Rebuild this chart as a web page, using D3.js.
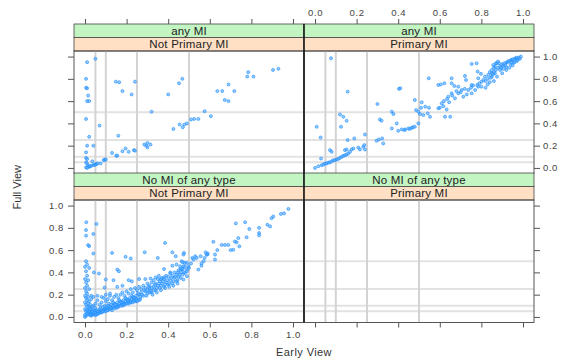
<!DOCTYPE html>
<html>
<head>
<meta charset="utf-8">
<script src="https://cdn.jsdelivr.net/npm/d3@7"></script>
<style>
  html, body { margin: 0; padding: 0; background: #fff; }
  svg { display: block; font-family: "Liberation Sans", Arial, sans-serif; }
</style>
</head>
<body>
<div id="chart"></div>
<script>
// strip labels (outer = green, inner = orange)
const outerLevels = ["any MI", "No MI of any type"];
const innerLevels = ["Not Primary MI", "Primary MI"];
const tickValues = [0, 0.2, 0.4, 0.6, 0.8, 1.0];
const refLines = [0.05, 0.1, 0.25, 0.5];

// any MI / Not Primary MI
const anyNotPrimary = [
  [0.01,0.95],[0.05,0.98],[0.005,0.80],[0.005,0.72],[0.01,0.715],[0.015,0.65],[0.01,0.60],[0.02,0.60],
  [0.005,0.44],[0.07,0.38],[0.02,0.28],[0.16,0.29],[0.01,0.20],[0.04,0.20],[0.005,0.14],[0.005,0.09],
  [0.01,0.08],[0.005,0.05],[0.01,0.04],[0.015,0.02],[0.02,0.01],[0.005,0.005],[0.01,0.0],[0.025,0.015],
  [0.03,0.02],[0.04,0.025],[0.045,0.03],[0.05,0.03],[0.055,0.035],[0.06,0.04],[0.035,0.06],[0.075,0.04],
  [0.09,0.07],[0.095,0.075],[0.10,0.075],[0.13,0.135],[0.15,0.11],[0.155,0.11],[0.18,0.15],[0.195,0.175],
  [0.21,0.145],[0.235,0.16],[0.24,0.155],[0.285,0.21],[0.30,0.225],[0.315,0.21],[0.30,0.185],[0.295,0.20],
  [0.148,0.775],[0.164,0.77],[0.18,0.69],[0.224,0.66],[0.24,0.775],[0.32,0.505],[0.40,0.66],[0.452,0.76],
  [0.468,0.80],[0.425,0.35],[0.455,0.39],[0.47,0.365],[0.478,0.39],[0.49,0.40],[0.51,0.435],[0.525,0.44],
  [0.545,0.44],[0.575,0.51],[0.605,0.465],[0.636,0.69],[0.66,0.69],[0.69,0.75],[0.718,0.69],[0.672,0.61],
  [0.69,0.60],[0.785,0.86],[0.78,0.82],[0.81,0.82],[0.904,0.88],[0.93,0.89]
];

// any MI / Primary MI
const anyPrimary = [
  [0.0,0.0],[0.016,0.015],[0.032,0.024],[0.04,0.03],[0.048,0.039],[0.056,0.04],[0.064,0.048],[0.072,0.05],
  [0.08,0.06],[0.088,0.069],[0.096,0.069],[0.104,0.078],[0.112,0.081],[0.12,0.09],[0.128,0.10],[0.136,0.108],
  [0.144,0.115],[0.152,0.12],[0.16,0.13],[0.168,0.145],[0.029,0.084],[0.072,0.16],[0.08,0.145],[0.144,0.16],
  [0.152,0.166],[0.176,0.166],[0.184,0.175],[0.208,0.183],[0.216,0.166],[0.232,0.19],[0.237,0.205],[0.24,0.166],
  [0.189,0.265],[0.157,0.25],[0.24,0.30],[0.296,0.244],[0.307,0.256],[0.323,0.265],[0.328,0.22],[0.369,0.355],
  [0.393,0.40],[0.40,0.334],[0.417,0.346],[0.433,0.346],[0.449,0.355],[0.465,0.36],[0.48,0.37],[0.497,0.40],
  [0.43,0.34],[0.455,0.35],[0.47,0.365],[0.369,0.505],[0.377,0.484],[0.312,0.436],[0.32,0.424],[0.30,0.574],
  [0.404,0.71],[0.41,0.715],[0.48,0.61],[0.513,0.589],[0.497,0.505],[0.505,0.484],[0.521,0.475],[0.548,0.541],
  [0.542,0.49],[0.553,0.46],[0.486,0.52],[0.51,0.54],[0.53,0.55],[0.12,0.48],[0.136,0.46],[0.152,0.424],
  [0.125,0.37],[0.008,0.37],[0.027,0.273],[0.077,0.985],[0.157,0.685],[0.60,0.54],[0.617,0.555],[0.633,0.525],
  [0.625,0.46],[0.65,0.46],[0.593,0.745],[0.622,0.76],[0.657,0.805],[0.67,0.736],[0.547,0.805],[0.605,0.75],
  [0.721,0.826],[0.726,0.79],[0.753,0.745],[0.785,0.805],[0.79,0.76],[0.753,0.934],[0.777,0.94],[0.641,0.64],
  [0.657,0.67],[0.673,0.625],[0.689,0.67],[0.705,0.70],[0.713,0.64],[0.609,0.58],[0.593,0.535],[0.657,0.76],
  [0.689,0.73],[0.737,0.70],[0.753,0.67],[0.77,0.70],[0.785,0.73],[0.801,0.775],[0.817,0.82],[0.833,0.835],
  [0.85,0.85],[0.865,0.91],[0.873,0.94],[0.857,0.925],[0.62,0.60],[0.635,0.62],[0.645,0.59],[0.66,0.65],
  [0.68,0.69],[0.70,0.68],[0.72,0.71],[0.73,0.66],[0.75,0.72],[0.76,0.74],[0.78,0.745],[0.798,0.845],
  [0.782,0.865],[0.81,0.79],[0.83,0.80],[0.84,0.77],[0.85,0.82],[0.855,0.84],[0.865,0.85],[0.87,0.88],
  [0.88,0.90],[0.89,0.91],[0.90,0.93],[0.905,0.92],[0.91,0.94],[0.92,0.945],[0.925,0.95],[0.93,0.96],
  [0.94,0.965],[0.945,0.97],[0.95,0.975],[0.96,0.98],[0.965,0.985],[0.97,0.99],[0.98,0.99],[0.99,1.0],
  [0.87,0.94],[0.88,0.955],[0.885,0.94],[0.89,0.88],[0.905,0.89],[0.92,0.905],[0.94,0.93],[0.955,0.945],
  [0.97,0.96],[0.80,0.73],[0.82,0.72],[0.83,0.75],[0.86,0.78],[0.875,0.82],[0.90,0.85],[0.92,0.88],
  [0.935,0.90],[0.95,0.92],[0.975,0.97],[0.985,0.98],[0.96,0.95],[0.945,0.95],[0.915,0.92],[0.895,0.90],
  [0.86,0.86],[0.845,0.81],[0.82,0.78],[0.84,0.86],[0.85,0.88],[0.86,0.90]
];

// No MI of any type / Not Primary MI
const noneNotPrimary = [
  [0.006,0.85],[0.055,0.835],[0.005,0.78],[0.005,0.73],[0.04,0.745],[0.015,0.645],[0.02,0.635],[0.04,0.57],
  [0.13,0.575],[0.195,0.54],[0.22,0.525],[0.287,0.58],[0.35,0.53],[0.385,0.665],[0.42,0.58],[0.436,0.545],
  [0.476,0.575],[0.516,0.53],[0.556,0.545],[0.58,0.58],[0.588,0.56],[0.617,0.675],[0.636,0.60],[0.657,0.647],
  [0.673,0.647],[0.689,0.647],[0.70,0.60],[0.713,0.603],[0.721,0.677],[0.737,0.708],[0.742,0.634],[0.729,0.67],
  [0.725,0.84],[0.77,0.85],[0.777,0.715],[0.79,0.79],[0.837,0.80],[0.837,0.753],[0.837,0.733],[0.877,0.828],
  [0.89,0.813],[0.897,0.887],[0.905,0.902],[0.942,0.925],[0.957,0.93],[0.978,0.97],[0.473,0.56],[0.465,0.50],
  [0.48,0.485],[0.473,0.455],[0.49,0.425],[0.48,0.395],[0.49,0.366],[0.473,0.336],[0.465,0.426],[0.497,0.455],
  [0.49,0.485],[0.457,0.455],[0.53,0.545],[0.522,0.515],[0.537,0.53],[0.545,0.426],[0.56,0.48],[0.57,0.50],
  [0.575,0.53],[0.585,0.56],[0.59,0.57],[0.56,0.46],[0.625,0.56],[0.625,0.515],[0.155,0.425],[0.163,0.41],
  [0.043,0.40],[0.067,0.39],[0.10,0.336],[0.137,0.33],[0.094,0.264],[0.155,0.27],[0.18,0.28],[0.21,0.33],
  [0.225,0.32],[0.26,0.34],[0.29,0.34],[0.315,0.345],[0.34,0.355],[0.355,0.37],[0.364,0.34],[0.38,0.355],
  [0.38,0.43],[0.41,0.40],[0.42,0.46],[0.44,0.47],[0.445,0.40],[0.46,0.43],[0.475,0.40],[0.47,0.49],
  [0.0,0.0],[0.005,0.01],[0.0,0.02],[0.01,0.03],[0.005,0.05],[0.0,0.07],[0.01,0.09],[0.005,0.11],
  [0.0,0.13],[0.01,0.15],[0.005,0.17],[0.0,0.19],[0.01,0.21],[0.005,0.23],[0.0,0.26],[0.01,0.28],
  [0.005,0.31],[0.0,0.34],[0.01,0.37],[0.005,0.41],[0.0,0.45],[0.01,0.47],[0.005,0.50],[0.015,0.06],
  [0.02,0.02],[0.015,0.12],[0.02,0.09],[0.015,0.18],[0.02,0.14],[0.025,0.04],[0.03,0.01],[0.03,0.07],
  [0.035,0.03],[0.04,0.05],[0.045,0.02],[0.02,0.25],[0.015,0.33],[0.02,0.44],[0.025,0.11],[0.03,0.16],
  [0.04,0.10],[0.05,0.04],[0.05,0.08],[0.055,0.02],[0.06,0.05],[0.065,0.03],[0.07,0.07],[0.075,0.04],
  [0.08,0.06],[0.085,0.09],[0.09,0.05],[0.095,0.07],[0.10,0.08],[0.105,0.06],[0.11,0.10],[0.115,0.07],
  [0.12,0.09],[0.125,0.11],[0.13,0.08],[0.135,0.10],[0.14,0.12],[0.145,0.09],[0.15,0.11],[0.155,0.13],
  [0.16,0.10],[0.165,0.12],[0.17,0.14],[0.175,0.11],[0.18,0.13],[0.185,0.15],[0.19,0.12],[0.195,0.14],
  [0.20,0.16],[0.205,0.13],[0.21,0.15],[0.215,0.17],[0.22,0.14],[0.225,0.16],[0.23,0.18],[0.235,0.15],
  [0.24,0.17],[0.245,0.19],[0.25,0.16],[0.26,0.20],[0.265,0.18],[0.27,0.22],[0.28,0.19],[0.29,0.23],
  [0.30,0.21],[0.31,0.25],[0.32,0.22],[0.33,0.27],[0.34,0.24],[0.35,0.28],[0.36,0.26],[0.37,0.30],
  [0.38,0.27],[0.39,0.31],[0.40,0.29],[0.41,0.33],[0.42,0.30],[0.43,0.35],[0.44,0.32],[0.45,0.36],
  [0.05,0.12],[0.06,0.15],[0.07,0.11],[0.08,0.13],[0.09,0.17],[0.10,0.14],[0.11,0.16],[0.12,0.19],
  [0.13,0.15],[0.14,0.18],[0.15,0.20],[0.16,0.17],[0.17,0.20],[0.18,0.22],[0.19,0.19],[0.20,0.23],
  [0.21,0.21],[0.22,0.25],[0.23,0.22],[0.24,0.26],[0.25,0.24],[0.26,0.27],[0.27,0.25],[0.28,0.28],
  [0.29,0.26],[0.30,0.30],[0.31,0.28],[0.32,0.31],[0.33,0.33],[0.34,0.30],[0.35,0.34],[0.36,0.32],
  [0.37,0.35],[0.38,0.34],[0.39,0.37],[0.40,0.36],[0.41,0.39],[0.42,0.37],[0.43,0.40],[0.44,0.38],
  [0.45,0.42],[0.46,0.40],[0.47,0.43],[0.48,0.45],[0.03,0.02],[0.04,0.03],[0.05,0.02],[0.06,0.03],
  [0.07,0.04],[0.08,0.04],[0.09,0.06],[0.10,0.05],[0.11,0.06],[0.12,0.07],[0.13,0.06],[0.14,0.08],
  [0.15,0.08],[0.16,0.09],[0.17,0.10],[0.18,0.10],[0.19,0.11],[0.20,0.12],[0.21,0.12],[0.22,0.13],
  [0.23,0.13],[0.24,0.14],[0.25,0.14],[0.26,0.15],[0.02,0.05],[0.03,0.04],[0.01,0.06],[0.025,0.08],
  [0.035,0.09],[0.045,0.06],[0.03,0.19],[0.04,0.18],[0.06,0.19],[0.08,0.18],[0.10,0.20],[0.12,0.21],
  [0.30,0.24],[0.31,0.22],[0.32,0.26],[0.33,0.24],[0.335,0.29],[0.345,0.26],[0.355,0.30],[0.365,0.28],
  [0.375,0.32],[0.385,0.29],[0.395,0.33],[0.405,0.30],[0.415,0.35],[0.425,0.32],[0.435,0.36],[0.445,0.33],
  [0.455,0.38],[0.015,0.03],[0.025,0.02],[0.035,0.05],[0.045,0.04],[0.055,0.06],[0.065,0.05],[0.075,0.08],
  [0.085,0.05],[0.095,0.10],[0.105,0.09],[0.115,0.12],[0.125,0.08],[0.135,0.13],[0.145,0.11],[0.155,0.09],
  [0.165,0.15],[0.175,0.13],[0.185,0.11],[0.195,0.17],[0.205,0.15],[0.215,0.13],[0.225,0.19],[0.235,0.17],
  [0.245,0.15],[0.255,0.21],[0.265,0.16],[0.275,0.20],[0.285,0.24],[0.295,0.19],[0.305,0.27],[0.315,0.23],
  [0.325,0.20],[0.345,0.22],[0.365,0.24],[0.385,0.26],[0.405,0.27],[0.425,0.28],[0.445,0.30],[0.46,0.35],
  [0.47,0.38],[0.49,0.41],[0.50,0.44],[0.51,0.48]
];

// No MI of any type / Primary MI: no observations
const nonePrimary = [];

const width = 569, height = 361;
const colX = [74, 304], panelW = 230;
const rowTop = [24, 173], stripH = 13.5, panelH = 122.5;

const panels = [
  { row: 0, col: 0, outer: outerLevels[0], inner: innerLevels[0], data: anyNotPrimary },
  { row: 0, col: 1, outer: outerLevels[0], inner: innerLevels[1], data: anyPrimary },
  { row: 1, col: 0, outer: outerLevels[1], inner: innerLevels[0], data: noneNotPrimary },
  { row: 1, col: 1, outer: outerLevels[1], inner: innerLevels[1], data: nonePrimary }
];

const x = d3.scaleLinear().domain([-0.053, 1.053]).range([0, panelW]);
const y = d3.scaleLinear().domain([-0.05, 1.05]).range([panelH, 0]);
const fmt = d3.format(".1f");

const svg = d3.select("#chart")
  .append("svg")
  .attr("width", width)
  .attr("height", height);

panels.forEach(p => {
  const left = colX[p.col];
  const top = rowTop[p.row];
  const g = svg.append("g").attr("transform", `translate(${left},${top})`);

  // strips
  [[p.outer, "#c3f5c3"], [p.inner, "#ffe0c4"]].forEach(([label, fill], i) => {
    g.append("rect")
      .attr("x", 0).attr("y", i * stripH)
      .attr("width", panelW).attr("height", stripH)
      .attr("fill", fill).attr("stroke", "#444").attr("stroke-width", 0.8);
    g.append("text")
      .attr("x", panelW / 2).attr("y", i * stripH + stripH / 2 + 4)
      .attr("text-anchor", "middle")
      .attr("font-size", 11.5)
      .attr("letter-spacing", 0.2)
      .attr("fill", "#222")
      .text(label);
  });

  const pg = g.append("g").attr("transform", `translate(0,${2 * stripH})`);

  // reference lines
  pg.selectAll("line.h").data(refLines).join("line")
    .attr("x1", 0).attr("x2", panelW)
    .attr("y1", d => y(d)).attr("y2", d => y(d))
    .attr("stroke", "#e2e2e2").attr("stroke-width", 2);
  pg.selectAll("line.v").data(refLines).join("line")
    .attr("y1", 0).attr("y2", panelH)
    .attr("x1", d => x(d)).attr("x2", d => x(d))
    .attr("stroke", "#d3d3d3").attr("stroke-width", 2);

  pg.append("g").selectAll("circle")
    .data(p.data)
    .join("circle")
    .attr("cx", d => x(d[0]))
    .attr("cy", d => y(d[1]))
    .attr("r", 1.5)
    .attr("fill", "#55aaff")
    .attr("fill-opacity", 0.6)
    .attr("stroke", "#1a8cff")
    .attr("stroke-width", 0.6);

  pg.append("rect")
    .attr("width", panelW).attr("height", panelH)
    .attr("fill", "none").attr("stroke", "#444").attr("stroke-width", 0.9);

  // lattice-style alternating axes
  const styleAxis = sel => {
    sel.select(".domain").remove();
    sel.selectAll(".tick line").attr("stroke", "#555");
    sel.selectAll(".tick text").attr("fill", "#444").attr("font-size", 9.5)
      .attr("letter-spacing", 0.6)
      .attr("font-family", "'Liberation Sans', Arial, sans-serif");
  };
  if (p.row === 0) {
    g.append("g").call(d3.axisTop(x).tickValues(tickValues).tickSize(5).tickPadding(3)
      .tickFormat(p.col === 1 ? fmt : ""))
      .call(styleAxis);
  } else {
    pg.append("g").attr("transform", `translate(0,${panelH})`)
      .call(d3.axisBottom(x).tickValues(tickValues).tickSize(5).tickPadding(4)
        .tickFormat(p.col === 0 ? fmt : ""))
      .call(styleAxis);
  }
  if (p.col === 0) {
    pg.append("g").call(d3.axisLeft(y).tickValues(tickValues).tickSize(6).tickPadding(4)
      .tickFormat(p.row === 1 ? fmt : ""))
      .call(styleAxis);
  } else {
    pg.append("g").attr("transform", `translate(${panelW},0)`)
      .call(d3.axisRight(y).tickValues(tickValues).tickSize(6).tickPadding(3)
        .tickFormat(p.row === 0 ? fmt : ""))
      .call(styleAxis);
  }
});

// column separator
svg.append("line")
  .attr("x1", colX[1]).attr("x2", colX[1])
  .attr("y1", rowTop[0]).attr("y2", rowTop[1] + 2 * stripH + panelH)
  .attr("stroke", "#111").attr("stroke-width", 1.4);

svg.append("text")
  .attr("transform", `translate(21,${(rowTop[0] + rowTop[1] + 2 * stripH + panelH) / 2 + 14}) rotate(-90)`)
  .attr("text-anchor", "middle")
  .attr("font-size", 11)
  .attr("fill", "#333")
  .text("Full View");

svg.append("text")
  .attr("x", colX[1])
  .attr("y", 356)
  .attr("text-anchor", "middle")
  .attr("font-size", 11)
  .attr("letter-spacing", 0.4)
  .attr("fill", "#333")
  .text("Early View");
</script>
</body>
</html>
